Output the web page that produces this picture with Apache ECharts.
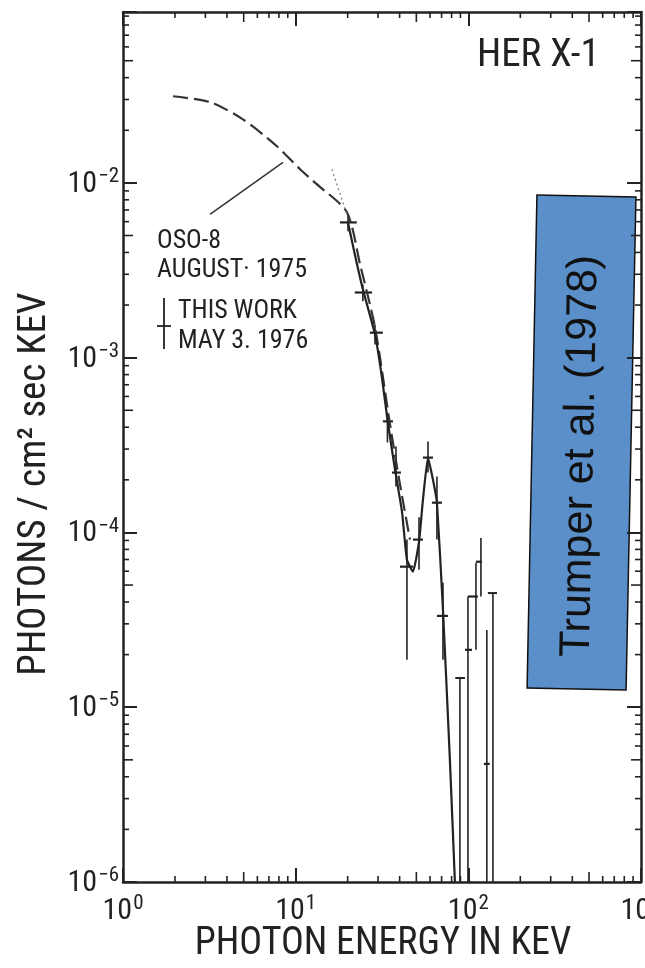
<!DOCTYPE html>
<html><head><meta charset="utf-8">
<script src="https://cdn.jsdelivr.net/npm/echarts@6/dist/echarts.min.js"></script>
<style>html,body{margin:0;padding:0;background:#fff}#c{width:645px;height:968px}</style>
</head><body><div id="c"></div>
<script>
// ---- data ----
// OSO-8, August 1975 (dashed spectrum)
const osoEnergy = [1.95, 3.19, 4.95, 7.79, 10.6, 13.3, 19.8, 23.6, 28.8, 35.2, 40.2, 45.9];
const osoFlux   = [0.0313, 0.029, 0.0231, 0.0162, 0.01197, 0.0098, 0.0068, 0.00342, 0.00149, 0.000414, 0.000188, 0.000091];
// thin dotted continuum extension
const extEnergy = [16.2, 19.8];
const extFlux   = [0.01197, 0.0066];
// leader line from the OSO-8 label to its curve
const leadEnergy = [3.19, 8.44];
const leadFlux   = [0.0066, 0.0131];
// model curve, this work
const fitEnergy = [20.1, 22.0, 24.5, 28.8, 31.6, 34.0, 37.6, 41.3, 44.1, 47.8, 51.8, 54.6, 58.4, 62.4, 65.8, 71.3, 78.2, 83.6, 86];
const fitFlux   = [5.94e-3, 3.9e-3, 2.46e-3, 1.36e-3, 7.7e-4, 4.43e-4, 2.29e-4, 1.31e-4, 6.98e-5, 5.97e-5, 8.85e-5, 1.54e-4, 2.68e-4, 2.0e-4, 1.48e-4, 3.61e-5, 5.0e-6, 1.0e-6, 5e-7];
// data points, this work (May 3, 1976): energy, bin edges, flux, flux error range
const ptEnergy = [20.1, 24.5, 28.8, 34.0, 38.1, 44.1, 51.8, 58.4, 65.8, 71.3, 99.5, 110.7, 118.3, 128];
const ptELo    = [18.05, 22.0, 26.9, 32.0, 36.1, 40.2, 47.8, 54.6, 61.5, 65.8, 95.6, 99.5, 110.7, 123];
const ptEHi    = [22.6, 27.7, 32.0, 36.6, 40.7, 47.8, 54.6, 62.4, 70.3, 76.2, 105, 113.7, 120, 133];
const ptFlux   = [5.94e-3, 2.36e-3, 1.39e-3, 4.32e-4, 2.2e-4, 6.37e-5, 9.1e-5, 2.68e-4, 1.48e-4, 3.33e-5, 2.13e-5, 4.3e-5, 6.8e-5, 4.74e-6];
const ptFluxLo = [5.28e-3, 2.1e-3, 1.19e-3, 3.27e-4, 1.83e-4, 1.87e-5, 6.12e-5, 2.2e-4, 9.1e-5, 1.87e-5, 1e-7, 2.13e-5, 4.3e-5, 1e-7];
const ptFluxHi = [6.6e-3, 2.62e-3, 1.55e-3, 4.85e-4, 3.1e-4, 9.1e-5, 1.22e-4, 3.31e-4, 2.09e-4, 5.16e-5, 4.3e-5, 6.7e-5, 9.3e-5, 2.77e-5];
// bars whose central value lies below the plotted range
const ulEnergy = [89.4, 138.8];
const ulELo    = [84.0, 129.8];
const ulEHi    = [95.6, 146.5];
const ulFluxHi = [1.47e-5, 4.5e-5];
// axes and texts
const xMin = 1, xMax = 1000;
const yMin = 1e-6, yMax = 0.095;
const xDecades = [1, 10, 100];
const yDecades = [1e-6, 1e-5, 1e-4, 1e-3, 1e-2];
const minorMult = [2, 3, 4, 5, 6, 7, 8, 9];
const xTitle = 'PHOTON ENERGY IN KEV';
const yTitle = 'PHOTONS / cm\u00B2 sec KEV';
const objName = 'HER X-1';
const legendOso = ['OSO-8', 'AUGUST\u00B7 1975'];
const legendThis = ['THIS WORK', 'MAY 3. 1976'];
const noteText = 'Trumper et al. (1978)';

const NARROW = '"Roboto Condensed", "DejaVu Sans Condensed", sans-serif';
const INK = '#222';

const pair = (xs, ys) => xs.map((x, i) => [x, ys[i]]);
const xMinor = [], yMinor = [];
xDecades.forEach(d => minorMult.forEach(m => xMinor.push([d * m, 1e-3])));
yDecades.forEach(d => minorMult.forEach(m => { if (d * m < yMax) yMinor.push([10, d * m]); }));

function expLabel(v) {
  const e = Math.log10(v);
  if (Math.abs(e - Math.round(e)) > 1e-6) return '';
  const r = Math.round(e);
  return '{b|10}{s|' + (r < 0 ? '\u2212' + (-r) : r) + '}';
}
const labRich = {
  b: { fontFamily: NARROW, fontSize: 30, color: INK, lineHeight: 33, verticalAlign: 'bottom' },
  s: { fontFamily: NARROW, fontSize: 21, color: INK, lineHeight: 33, verticalAlign: 'top', padding: [0, 0, 0, 1] }
};
const axisLineStyle = { show: true, lineStyle: { color: INK, width: 2.5 } };
const majorTick = { show: true, inside: true, length: 14, lineStyle: { color: INK, width: 2 } };
function minorLen(v) { const m = v / Math.pow(10, Math.floor(Math.log10(v) + 1e-9)); return Math.round(m) === 5 ? 10 : 6; }
function renderXMinor(params, api) {
  const cs = params.coordSys; const v = api.value(0); const p = api.coord([v, 1e-3]); const L = minorLen(v);
  const st = { stroke: INK, lineWidth: 1.6 };
  return { type: 'group', children: [
    { type: 'line', shape: { x1: p[0], y1: cs.y + cs.height, x2: p[0], y2: cs.y + cs.height - L }, style: st },
    { type: 'line', shape: { x1: p[0], y1: cs.y, x2: p[0], y2: cs.y + L }, style: st } ] };
}
function renderYMinor(params, api) {
  const cs = params.coordSys; const v = api.value(1); const p = api.coord([10, v]); const L = minorLen(v);
  const st = { stroke: INK, lineWidth: 1.6 };
  return { type: 'group', children: [
    { type: 'line', shape: { x1: cs.x, y1: p[1], x2: cs.x + L, y2: p[1] }, style: st },
    { type: 'line', shape: { x1: cs.x + cs.width, y1: p[1], x2: cs.x + cs.width - L, y2: p[1] }, style: st } ] };
}
function renderErr(params, api) {
  const x = api.value(0), xl = api.value(1), xh = api.value(2), y = api.value(3), yl = api.value(4), yh = api.value(5);
  const c = api.coord([x, y]), cl = api.coord([xl, y]), ch = api.coord([xh, y]);
  const cyl = api.coord([x, yl]), cyh = api.coord([x, yh]);
  return { type: 'group', children: [
    { type: 'line', shape: { x1: cl[0], y1: c[1], x2: ch[0], y2: c[1] }, style: { stroke: INK, lineWidth: 2.2 } },
    { type: 'line', shape: { x1: c[0], y1: cyh[1], x2: c[0], y2: cyl[1] }, style: { stroke: INK, lineWidth: 1.6 } } ] };
}
function renderUL(params, api) {
  const x = api.value(0), xl = api.value(1), xh = api.value(2), yh = api.value(3);
  const top = api.coord([x, yh]), cl = api.coord([xl, yh]), ch = api.coord([xh, yh]);
  const bot = api.coord([x, 1e-7]);
  return { type: 'group', children: [
    { type: 'line', shape: { x1: cl[0], y1: top[1], x2: ch[0], y2: top[1] }, style: { stroke: INK, lineWidth: 2 } },
    { type: 'line', shape: { x1: top[0], y1: top[1], x2: top[0], y2: bot[1] }, style: { stroke: INK, lineWidth: 1.6 } } ] };
}

const chart = echarts.init(document.getElementById('c'), null, { renderer: 'canvas' });
const gTxt = (t, x, y, size, align) => ({ type: 'text', x: x, y: y, silent: true,
  style: { text: t, font: size + 'px ' + NARROW, fill: INK, textAlign: align || 'left', textVerticalAlign: 'middle',
    align: align || 'left', verticalAlign: 'middle' } });

chart.setOption({
  animation: false,
  backgroundColor: '#fff',
  grid: { left: 123, right: 4, top: 12, bottom: 86, outerBoundsMode: 'none', containLabel: false },
  xAxis: [
    { type: 'log', logBase: 10, min: xMin, max: xMax, position: 'bottom',
      axisLine: axisLineStyle, axisTick: majorTick, splitLine: { show: false }, minorTick: { show: false },
      axisLabel: { formatter: expLabel, rich: labRich, margin: 11 } },
    { type: 'log', logBase: 10, min: xMin, max: xMax, position: 'top',
      axisLine: axisLineStyle, axisTick: majorTick, splitLine: { show: false }, axisLabel: { show: false } }
  ],
  yAxis: [
    { type: 'log', logBase: 10, min: yMin, max: yMax, position: 'left',
      axisLine: axisLineStyle, axisTick: majorTick, splitLine: { show: false },
      axisLabel: { formatter: expLabel, rich: labRich, margin: 4 } },
    { type: 'log', logBase: 10, min: yMin, max: yMax, position: 'right',
      axisLine: axisLineStyle, axisTick: majorTick, splitLine: { show: false }, axisLabel: { show: false } }
  ],
  series: [
    { type: 'custom', renderItem: renderXMinor, data: xMinor, silent: true, clip: false },
    { type: 'custom', renderItem: renderYMinor, data: yMinor, silent: true, clip: false },
    { type: 'line', data: pair(osoEnergy, osoFlux), symbol: 'none', smooth: 0.25, silent: true,
      lineStyle: { color: '#333', width: 2.2, type: [15, 6] } },
    { type: 'line', data: pair(extEnergy, extFlux), symbol: 'none', silent: true,
      lineStyle: { color: '#777', width: 1.2, type: [2, 3] } },
    { type: 'line', data: pair(leadEnergy, leadFlux), symbol: 'none', silent: true,
      lineStyle: { color: '#333', width: 1.5 } },
    { type: 'line', data: pair(fitEnergy, fitFlux), symbol: 'none', smooth: 0.15, silent: true, clip: true,
      lineStyle: { color: '#222', width: 2.2 } },
    { type: 'custom', renderItem: renderErr, clip: true, silent: true,
      encode: { x: [0, 1, 2], y: [3, 4, 5] },
      data: ptEnergy.map((e, i) => [e, ptELo[i], ptEHi[i], ptFlux[i], ptFluxLo[i], ptFluxHi[i]]) },
    { type: 'custom', renderItem: renderUL, clip: true, silent: true,
      encode: { x: [0, 1, 2], y: [3] },
      data: ulEnergy.map((e, i) => [e, ulELo[i], ulEHi[i], ulFluxHi[i]]) }
  ],
  graphic: [
    gTxt(objName, 477, 56, 39),
    gTxt(legendOso[0], 157, 241, 26),
    gTxt(legendOso[1], 157, 270, 26),
    gTxt(legendThis[0], 178, 311, 26),
    gTxt(legendThis[1], 178, 341, 26),
    gTxt(xTitle, 383, 944, 38, 'center'),
    { type: 'line', shape: { x1: 164, y1: 298, x2: 164, y2: 349 }, style: { stroke: INK, lineWidth: 1.8 } },
    { type: 'line', shape: { x1: 157, y1: 326, x2: 171, y2: 326 }, style: { stroke: INK, lineWidth: 1.8 } },
    { type: 'text', x: 35, y: 484, rotation: Math.PI / 2, silent: true,
      style: { text: yTitle, font: '39px ' + NARROW, fill: INK, textAlign: 'center', textVerticalAlign: 'middle', align: 'center', verticalAlign: 'middle' } },
    { type: 'rect', x: 581.5, y: 442.5, rotation: -0.02,
      shape: { x: -49.5, y: -246.5, width: 99, height: 493 },
      style: { fill: '#5b8fc9', stroke: '#111', lineWidth: 1.5 } },
    { type: 'text', x: 581, y: 456, rotation: Math.PI / 2 - 0.02,
      style: { text: noteText, font: '43px "Liberation Sans", Arial, sans-serif', fill: '#111',
        textAlign: 'center', textVerticalAlign: 'middle', align: 'center', verticalAlign: 'middle' } }
  ]
});
</script></body></html>
